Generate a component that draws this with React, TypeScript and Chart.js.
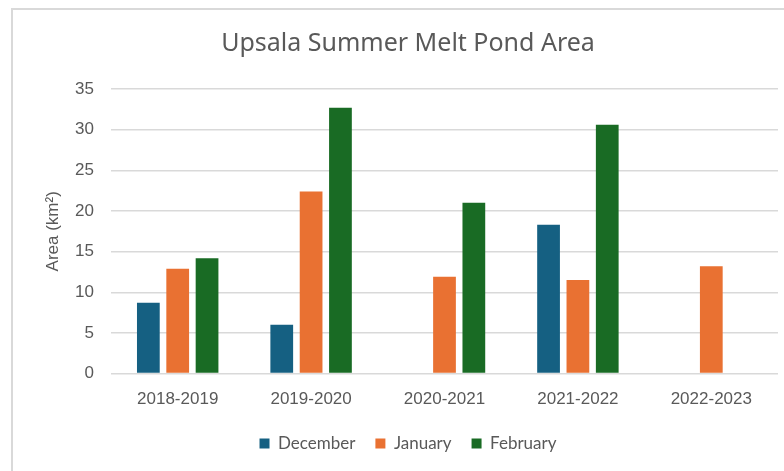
import React, { useEffect, useRef } from "react";
import { Chart, registerables } from "chart.js";

Chart.register(...registerables);

// Seasons on the category axis
const seasons = ["2018-2019", "2019-2020", "2020-2021", "2021-2022", "2022-2023"];

// Melt pond area per month (km²); null where no measurement exists
const december = [8.7, 6.0, null, 18.3, null];
const january = [12.9, 22.4, 11.9, 11.5, 13.2];
const february = [14.2, 32.7, 21.0, 30.6, null];

const yTicks = [0, 5, 10, 15, 20, 25, 30, 35];

const TEXT = "#595959";
const GRID = "#d9d9d9";

export default function App() {
  const canvasRef = useRef<HTMLCanvasElement | null>(null);

  useEffect(() => {
    const canvas = canvasRef.current;
    if (!canvas) return;
    const chart = new Chart(canvas, {
      type: "bar",
      data: {
        labels: seasons,
        datasets: [
          { label: "December", data: december, backgroundColor: "#156082" },
          { label: "January", data: january, backgroundColor: "#E97132" },
          { label: "February", data: february, backgroundColor: "#196B24" },
        ],
      },
      options: {
        animation: false,
        responsive: false,
        maintainAspectRatio: false,
        devicePixelRatio: 1,
        layout: { padding: { left: 38, right: 6, top: 0, bottom: 9 } },
        datasets: {
          bar: { categoryPercentage: 0.66, barPercentage: 0.775 },
        },
        plugins: {
          title: {
            display: true,
            text: "Upsala Summer Melt Pond Area",
            color: TEXT,
            font: { family: "'Noto Sans', sans-serif", size: 25, weight: "normal" },
            padding: { top: 29, bottom: 30 },
          },
          legend: {
            position: "bottom",
            labels: {
              color: TEXT,
              boxWidth: 10,
              boxHeight: 10,
              padding: 20,
              font: { family: "Lato, sans-serif", size: 17 },
            },
          },
          tooltip: { enabled: false },
        },
        scales: {
          x: {
            grid: { display: false, drawTicks: false },
            border: { display: false },
            afterFit: (scale: any) => {
              scale.height -= 11;
            },
            ticks: {
              color: TEXT,
              padding: 16,
              font: { family: "'Liberation Sans', Arial, sans-serif", size: 17 },
            },
          },
          y: {
            min: 0,
            max: 35,
            afterFit: (scale: any) => {
              scale.width = 73;
            },
            afterBuildTicks: (scale: any) => {
              scale.ticks = yTicks.map((v) => ({ value: v }));
            },
            grid: { color: GRID, lineWidth: 1.5, drawTicks: false },
            border: { display: false },
            ticks: {
              color: TEXT,
              padding: 17,
              font: { family: "'Liberation Sans', Arial, sans-serif", size: 17 },
            },
            title: {
              display: true,
              text: "Area (km²)",
              color: TEXT,
              padding: { top: 5, bottom: 0 },
              font: { family: "'Liberation Sans', Arial, sans-serif", size: 17 },
            },
          },
        },
      },
    });
    return () => chart.destroy();
  }, []);

  return (
    <div
      style={{
        position: "absolute",
        left: 0,
        top: 0,
        width: 784,
        height: 471,
        overflow: "hidden",
        background: "#fff",
      }}
    >
      <div
        style={{
          position: "absolute",
          left: 11,
          top: 8,
          width: 800,
          height: 480,
          border: `2px solid ${GRID}`,
          boxSizing: "border-box",
        }}
      />
      <canvas
        ref={canvasRef}
        width={784}
        height={471}
        style={{ position: "absolute", left: 0, top: 0, width: 784, height: 471 }}
      />
    </div>
  );
}
